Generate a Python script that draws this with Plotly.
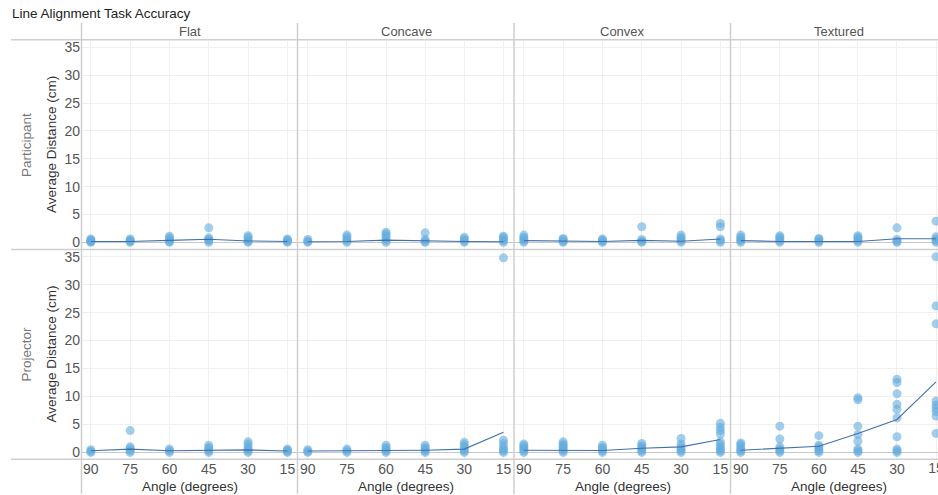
import plotly.graph_objects as go

# Angle categories (degrees) shown left to right
angles = ["90", "75", "60", "45", "30", "15"]
surfaces = ["Flat", "Concave", "Convex", "Textured"]
devices = ["Participant", "Projector"]

# Per-participant average distance (cm), one list per angle (90 .. 15)
participant_flat = [[0, 0.1, 0.3, 0.4, 0.6], [0, 0.2, 0.4, 0.6], [0, 0.2, 0.5, 0.8, 1.1],
                    [0, 0.3, 0.5, 0.8, 2.6], [0, 0.2, 0.5, 0.9, 1.2], [0, 0.2, 0.4, 0.6]]
participant_concave = [[0, 0.2, 0.5], [0, 0.3, 0.6, 1.0, 1.3], [0, 0.3, 0.7, 1.1, 1.5, 1.8],
                       [0, 0.2, 0.5, 1.7], [0, 0.3, 0.6, 0.9], [0, 0.3, 0.6, 0.9, 1.1]]
participant_convex = [[0, 0.3, 0.6, 0.9, 1.3], [0, 0.2, 0.5, 0.7], [0, 0.2, 0.4, 0.6],
                      [0, 0.2, 0.5, 2.8], [0, 0.3, 0.6, 0.9, 1.3], [0, 0.3, 0.6, 2.8, 3.4]]
participant_textured = [[0, 0.3, 0.6, 0.9, 1.3], [0, 0.3, 0.6, 0.9, 1.2], [0, 0.2, 0.5, 0.7],
                        [0, 0.3, 0.6, 0.9, 1.2], [0, 0.2, 0.5, 2.6], [0, 0.3, 0.6, 1.0, 3.8]]

projector_flat = [[0, 0.2, 0.5], [0, 0.3, 0.7, 1.0, 3.9], [0, 0.3, 0.6],
                  [0, 0.3, 0.6, 0.9, 1.3], [0, 0.3, 0.6, 1.0, 1.5, 1.9], [0, 0.2, 0.4, 0.6]]
projector_concave = [[0, 0.2, 0.5], [0, 0.3, 0.6], [0, 0.3, 0.6, 0.9, 1.3],
                     [0, 0.3, 0.6, 0.9, 1.3], [0, 0.3, 0.6, 1.0, 1.4, 1.8],
                     [0, 0.3, 0.6, 1.0, 1.6, 2.2, 34.8]]
projector_convex = [[0, 0.3, 0.6, 0.9, 1.2, 1.5], [0, 0.3, 0.6, 0.9, 1.2, 1.5, 1.9],
                    [0, 0.3, 0.6, 0.9, 1.3], [0, 0.3, 0.6, 0.9, 1.2, 1.6],
                    [0, 0.3, 0.6, 1.0, 1.5, 2.5], [0, 0.3, 0.6, 1.0, 1.4, 1.9, 3.3, 3.9, 4.5, 5.2]]
projector_textured = [[0, 0.3, 0.6, 1.0, 1.4, 1.7], [0, 0.3, 0.6, 1.0, 2.4, 4.7],
                      [0, 0.3, 0.6, 1.0, 1.3, 3.0], [0, 0.3, 0.6, 2.0, 3.2, 4.7, 9.4, 9.8],
                      [0, 0.3, 0.6, 2.8, 6.2, 7.7, 8.6, 10.5, 12.5, 13.1],
                      [3.4, 6.5, 7.3, 7.9, 8.5, 9.2, 23.0, 26.2, 35.0]]

# Group averages (cm) drawn as the trend line
participant_flat_avg = [0.15, 0.15, 0.35, 0.55, 0.25, 0.15]
participant_concave_avg = [0.1, 0.15, 0.4, 0.25, 0.15, 0.1]
participant_convex_avg = [0.3, 0.2, 0.15, 0.35, 0.2, 0.6]
participant_textured_avg = [0.3, 0.15, 0.15, 0.15, 0.65, 0.65]
projector_flat_avg = [0.3, 0.6, 0.3, 0.4, 0.45, 0.25]
projector_concave_avg = [0.25, 0.25, 0.35, 0.4, 0.6, 3.6]
projector_convex_avg = [0.4, 0.4, 0.35, 0.75, 1.0, 2.3]
projector_textured_avg = [0.4, 0.7, 1.1, 3.4, 5.9, 12.6]

panels = [
    [(participant_flat, participant_flat_avg), (participant_concave, participant_concave_avg),
     (participant_convex, participant_convex_avg), (participant_textured, participant_textured_avg)],
    [(projector_flat, projector_flat_avg), (projector_concave, projector_concave_avg),
     (projector_convex, projector_convex_avg), (projector_textured, projector_textured_avg)],
]

W, H = 938, 495
FONT = "Liberation Sans, Arial, sans-serif"
DOT = "rgba(100,172,222,0.6)"
LINE = "#4272aa"
GRID = "#efefef"
RULE = "#cfcfcf"
TICKFONT = dict(family=FONT, size=14, color="#555")

col_px = [(81, 298), (298, 514), (514, 731), (731, 938)]
row_px = [(40, 249), (250, 460)]
last_range = [-0.25, 5.05]


def fx(px):
    return px / W


def fy(py):
    return 1 - py / H


fig = go.Figure()
layout = {}
k = 0
for r, row in enumerate(panels):
    for c, (points, avg) in enumerate(row):
        k += 1
        xa = "x" if k == 1 else f"x{k}"
        ya = "y" if k == 1 else f"y{k}"
        xs, ys = [], []
        for a, vals in zip(angles, points):
            xs += [a] * len(vals)
            ys += vals
        fig.add_trace(go.Scatter(x=xs, y=ys, mode="markers", xaxis=xa, yaxis=ya,
                                 marker=dict(size=9, color=DOT, line=dict(width=0)),
                                 showlegend=False, hoverinfo="skip"))
        fig.add_trace(go.Scatter(x=angles, y=avg, mode="lines", xaxis=xa, yaxis=ya,
                                 line=dict(color=LINE, width=1.1),
                                 showlegend=False, hoverinfo="skip"))
        x0, x1 = col_px[c]
        y0, y1 = row_px[r]
        xname = "xaxis" if k == 1 else f"xaxis{k}"
        yname = "yaxis" if k == 1 else f"yaxis{k}"
        # the rightmost pane runs off the page edge; its last label is drawn clipped below
        ticktext = angles[:-1] + [""] if c == 3 else angles
        layout[xname] = dict(
            domain=[fx(x0), fx(x1)], anchor=ya, type="category",
            categoryorder="array", categoryarray=angles,
            tickmode="array", tickvals=angles, ticktext=ticktext,
            range=last_range if c == 3 else [-0.25, 5.27],
            showgrid=True, gridcolor=GRID, gridwidth=1, showline=False, zeroline=False,
            ticks="", showticklabels=(r == 1), tickfont=TICKFONT,
        )
        layout[yname] = dict(
            domain=[fy(y1), fy(y0)], anchor=xa, range=[-1.2, 36.2],
            tick0=0, dtick=5, showgrid=True, gridcolor=GRID, gridwidth=1,
            zeroline=True, zerolinecolor="#c8c8c8", zerolinewidth=1, showline=False,
            ticks="", showticklabels=(c == 0), tickfont=TICKFONT,
        )

# strip under the rightmost bottom pane holding its clipped last tick label
fig.add_trace(go.Scatter(x=[angles[-1]], y=[0.5], mode="text", text=[angles[-1]],
                         textposition="middle center", textfont=TICKFONT, cliponaxis=True,
                         xaxis="x9", yaxis="y9", showlegend=False, hoverinfo="skip"))
layout["xaxis9"] = dict(domain=[fx(731), fx(938)], anchor="y9", type="category",
                        categoryorder="array", categoryarray=angles, range=last_range,
                        visible=False)
layout["yaxis9"] = dict(domain=[fy(480), fy(461)], anchor="x9", range=[0.03, 1.0],
                        visible=False)

shapes = []
# vertical pane separators
for xp in (81.5, 297.5, 514, 730.5):
    shapes.append(dict(type="line", xref="paper", yref="paper", x0=fx(xp), x1=fx(xp),
                       y0=fy(22), y1=fy(495), line=dict(color=RULE, width=1.5)))
# horizontal separators
for yp in (39, 249.5, 460):
    shapes.append(dict(type="line", xref="paper", yref="paper", x0=fx(11), x1=1,
                       y0=fy(yp), y1=fy(yp), line=dict(color=RULE, width=1.5)))

annotations = [dict(text="Line Alignment Task Accuracy", x=fx(10), y=fy(13), xref="paper",
                    yref="paper", xanchor="left", yanchor="middle", showarrow=False,
                    font=dict(family=FONT, size=13.5, color="#222"))]
for c, name in enumerate(surfaces):
    x0, x1 = col_px[c]
    annotations.append(dict(text=name, x=fx((x0 + x1) / 2 + (4 if c == 3 else 0)), y=fy(31),
                            xref="paper", yref="paper", xanchor="center", yanchor="middle",
                            showarrow=False, font=dict(family=FONT, size=13, color="#555")))
    annotations.append(dict(text="Angle (degrees)", x=fx((x0 + x1) / 2 + (4 if c == 3 else 0)),
                            y=fy(487), xref="paper", yref="paper", xanchor="center",
                            yanchor="middle", showarrow=False,
                            font=dict(family=FONT, size=13.5, color="#333")))
for r, name in enumerate(devices):
    y0, y1 = row_px[r]
    yc = (y0 + y1) / 2
    annotations.append(dict(text=name, x=fx(27), y=fy(yc), xref="paper", yref="paper",
                            xanchor="center", yanchor="middle", textangle=-90, showarrow=False,
                            font=dict(family=FONT, size=13.5, color="#777")))
    annotations.append(dict(text="Average Distance (cm)", x=fx(52), y=fy(yc), xref="paper",
                            yref="paper", xanchor="center", yanchor="middle", textangle=-90,
                            showarrow=False, font=dict(family=FONT, size=13.5, color="#333")))

fig.update_layout(
    width=W, height=H, margin=dict(l=0, r=0, t=0, b=0),
    paper_bgcolor="white", plot_bgcolor="white",
    shapes=shapes, annotations=annotations, **layout,
)

fig.write_html("out.html", config={"displayModeBar": False})
